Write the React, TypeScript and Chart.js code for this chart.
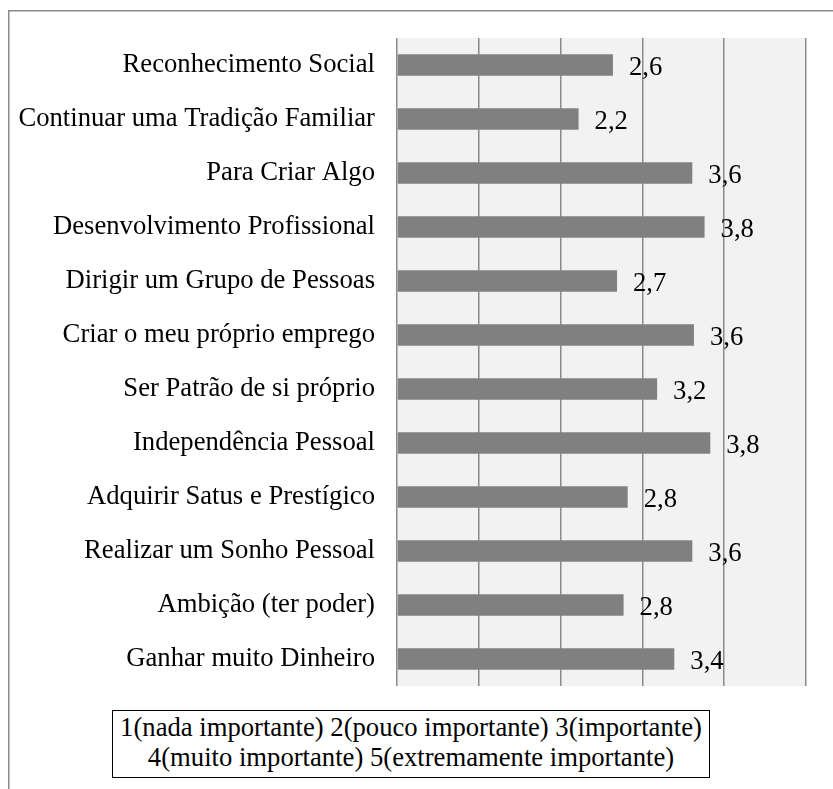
import React, { useEffect, useRef } from "react";
import { Chart, registerables } from "chart.js";

Chart.register(...registerables);

const categories = [
  "Reconhecimento Social",
  "Continuar uma Tradição Familiar",
  "Para Criar Algo",
  "Desenvolvimento Profissional",
  "Dirigir um Grupo de Pessoas",
  "Criar o meu próprio emprego",
  "Ser Patrão de si próprio",
  "Independência Pessoal",
  "Adquirir Satus e Prestígico",
  "Realizar um Sonho Pessoal",
  "Ambição (ter poder)",
  "Ganhar muito Dinheiro",
];

const values = [2.64, 2.22, 3.61, 3.76, 2.69, 3.63, 3.18, 3.83, 2.82, 3.61, 2.77, 3.39];

const axisMin = 0;
const axisMax = 5;
const axisStep = 1;

const noteLines = [
  "1(nada importante) 2(pouco importante) 3(importante)",
  "4(muito importante) 5(extremamente importante)",
];

const FONT_FAMILY = "'Liberation Serif', 'Times New Roman', Times, serif";
const FONT_SIZE = 26.67;

const formatValue = (v: number) => v.toFixed(1).replace(".", ",");

const backgroundPlugin = {
  id: "bgFrame",
  beforeDraw(chart: any) {
    const { ctx, chartArea } = chart;
    ctx.save();
    ctx.fillStyle = "#f2f2f2";
    ctx.fillRect(chartArea.left, chartArea.top, chartArea.right - chartArea.left, chartArea.bottom - chartArea.top);
    ctx.strokeStyle = "#8a8a8a";
    ctx.lineWidth = 1.5;
    ctx.strokeRect(8.75, 10.75, 1200, 1200);
    ctx.restore();
  },
};

const valueLabelPlugin = {
  id: "valueLabels",
  afterDatasetsDraw(chart: any) {
    const { ctx } = chart;
    const meta = chart.getDatasetMeta(0);
    const data = chart.data.datasets[0].data as number[];
    ctx.save();
    ctx.font = `${FONT_SIZE}px ${FONT_FAMILY}`;
    ctx.fillStyle = "#000";
    ctx.textAlign = "left";
    ctx.textBaseline = "alphabetic";
    meta.data.forEach((el: any, i: number) => {
      ctx.fillText(formatValue(data[i]), el.x + 16, el.y + 9.5);
    });
    ctx.restore();
  },
};

export default function App() {
  const canvasRef = useRef<HTMLCanvasElement | null>(null);

  useEffect(() => {
    if (!canvasRef.current) return;
    const chart = new Chart(canvasRef.current, {
      type: "bar",
      data: {
        labels: categories,
        datasets: [
          {
            data: values,
            backgroundColor: "#808080",
            borderWidth: 0,
            barPercentage: 0.4,
            categoryPercentage: 1.0,
          },
        ],
      },
      options: {
        indexAxis: "y",
        responsive: false,
        animation: false,
        layout: { padding: { top: 36, right: 27, bottom: 103, left: 0 } },
        plugins: {
          legend: { display: false },
          tooltip: { enabled: false },
        },
        scales: {
          x: {
            type: "linear",
            min: axisMin,
            max: axisMax,
            ticks: { display: false, stepSize: axisStep },
            grid: { color: "#8a8a8a", lineWidth: 1.5, drawTicks: false },
            border: { display: false },
            afterFit: (scale: any) => {
              scale.height = 0;
            },
          },
          y: {
            type: "category",
            grid: { display: false, drawTicks: false },
            border: { display: false },
            ticks: {
              color: "#000",
              padding: 22,
              font: { family: FONT_FAMILY, size: FONT_SIZE },
              autoSkip: false,
            },
            afterFit: (scale: any) => {
              scale.width = 397;
            },
          },
        },
      },
      plugins: [backgroundPlugin, valueLabelPlugin],
    } as any);
    return () => chart.destroy();
  }, []);

  return (
    <div style={{ position: "absolute", left: 0, top: 0, width: 833, height: 789, overflow: "hidden", background: "#fff" }}>
      <canvas ref={canvasRef} width={833} height={789} style={{ width: 833, height: 789, display: "block" }} />
      <div
        style={{
          position: "absolute",
          left: 112,
          top: 710,
          width: 598,
          boxSizing: "border-box",
          border: "1.5px solid #000",
          padding: "1px 0 5px 0",
          fontFamily: FONT_FAMILY,
          fontSize: FONT_SIZE,
          lineHeight: "30px",
          textAlign: "center",
          color: "#000",
          background: "#fff",
          whiteSpace: "nowrap",
        }}
      >
        {noteLines.map((line, i) => (
          <div key={i}>{line}</div>
        ))}
      </div>
    </div>
  );
}
